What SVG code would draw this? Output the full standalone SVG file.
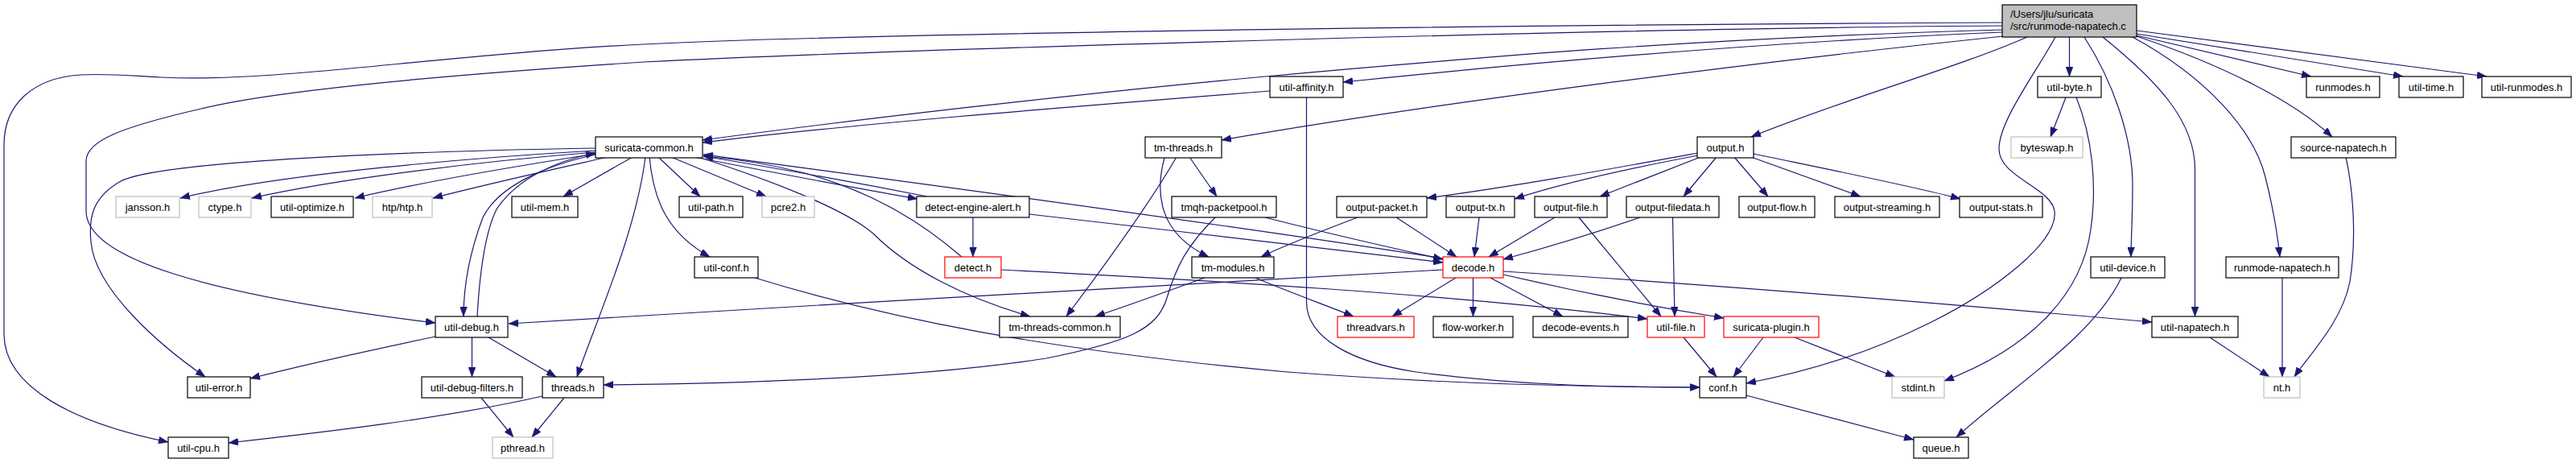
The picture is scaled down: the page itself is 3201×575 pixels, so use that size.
<svg xmlns="http://www.w3.org/2000/svg" width="3201" height="575" viewBox="0 0 3201 575">
<defs>
<marker id="arr" markerUnits="userSpaceOnUse" markerWidth="12" markerHeight="9" refX="12" refY="4.5" orient="auto">
<path d="M0,0 L12,4.5 L0,9 z" fill="#191970" stroke="#191970" stroke-width="0.5"/>
</marker>
<style>
.node rect{fill:#fff;stroke:#000;stroke-width:1.2}
.gray rect{stroke:#bfbfbf}
.red rect{stroke:#ff0000}
.root rect{fill:#bfbfbf;stroke:#000}
text{font-family:"Liberation Sans",Arial,Helvetica,sans-serif;font-size:13px;text-anchor:middle;fill:#000}
.root text{text-anchor:start}
.edges path{fill:none;stroke:#191970;stroke-width:1.2;marker-end:url(#arr)}
</style>
</defs>
<rect width="3201" height="575" fill="#fff"/>
<g class="edges" id="edges">
<path d="M2488,28 C2000,30 1100,40 800,55 C600,65 420,90 306,95 C270,97 240,98 200,96 C160,94 130,91 100,93 C40,97 5,130 5,180 L5,415 C5,480 90,525 209,549"/>
<path d="M2488,32 C2000,35 1100,62 800,77 C600,90 350,110 250,135 C150,158 107,175 107,200 L107,262 C107,320 250,365 541,401"/>
<path d="M2488,37 C2100,48 1850,70 1578,94.5 C1350,115 1050,150 873,174"/>
<path d="M2488,40 C2200,52 1900,78 1669,102"/>
<path d="M2489,45 C2200,75 1800,125 1518,174"/>
<path d="M2519,46 C2430,85 2300,120 2176,170"/>
<path d="M2554,46 C2530,90 2484,150 2484,185 C2484,220 2548,232 2553,262 C2558,300 2480,360 2400,400 C2320,440 2240,463 2170,476"/>
<path d="M2571.5,46 L2571.5,95"/>
<path d="M2590,46 C2625,100 2650,170 2650,230 C2650,270 2648,300 2648,319"/>
<path d="M2613,46 C2680,100 2727.5,150 2727.5,210 L2727.5,393"/>
<path d="M2650,46 C2740,95 2800,160 2815,220 C2825,260 2830,290 2833,319"/>
<path d="M2655,45 C2760,80 2850,125 2898,170"/>
<path d="M2655,44 L2872,95"/>
<path d="M2655,42 L2986,95"/>
<path d="M2655,38 L3090,95"/>
<path d="M2567,121 L2548,170"/>
<path d="M2580,121 C2600,170 2606,230 2598,285 C2588,360 2530,430 2416,473"/>
<path d="M2915,195 C2925,240 2928,300 2920,350 C2910,400 2870,440 2851,468"/>
<path d="M2836,345 L2836,468"/>
<path d="M2746,419 L2820,468"/>
<path d="M2636,345 C2600,420 2500,480 2431,543"/>
<path d="M1578,113 C1300,135 1050,155 873,177"/>
<path d="M1623.5,121 L1623.5,375 C1623.5,420 1680,450 1760,462 C1880,478 2000,481 2112,481"/>
<path d="M1478,195 L1512,244"/>
<path d="M1447,196 C1435,240 1440,290 1502,319"/>
<path d="M1462,195 C1430,250 1380,320 1325,393"/>
<path d="M1572,270 C1650,290 1730,308 1793,322"/>
<path d="M1510,270 C1475,305 1462,330 1450,370 C1438,410 1400,425 1300,445 C1150,468 950,476 750,478"/>
<path d="M1209,270 L1209,319"/>
<path d="M1279,266 C1450,285 1650,310 1793,326"/>
<path d="M862,195 C950,212 1060,233 1140,247"/>
<path d="M1152,244 C1060,226 960,208 874,194"/>
<path d="M1195,319 C1150,280 1090,240 1000,215 C950,202 910,197 874,194"/>
<path d="M1244,335 C1500,348 1800,365 2047,396"/>
<path d="M874,197 C960,225 1050,260 1085,290 C1130,335 1200,370 1280,393"/>
<path d="M807,195 C812,250 830,290 882,319"/>
<path d="M818,195 L870,244"/>
<path d="M834,195 L952,244"/>
<path d="M786,195 L700,244"/>
<path d="M802,195 C790,290 740,400 717,468"/>
<path d="M740,187 C600,195 350,215 224,246"/>
<path d="M740,189 C600,200 420,222 313,246"/>
<path d="M740,191 C650,205 520,227 441,246"/>
<path d="M755,195 C680,212 590,232 538,246"/>
<path d="M740,184 C500,188 200,200 150,225 C115,245 110,270 113,300 C118,360 200,430 255,468"/>
<path d="M740,192 C680,205 620,230 600,270 C585,310 576,350 576,393"/>
<path d="M593,393 C596,340 602,290 617,260 C642,222 690,200 740,190"/>
<path d="M1793,321 C1500,275 1100,222 874,192"/>
<path d="M1793,335 C1500,350 1000,380 632,402"/>
<path d="M1809,345 L1730,393"/>
<path d="M1830.5,345 L1830.5,393"/>
<path d="M1852,345 L1942,393"/>
<path d="M1868,341 C1950,360 2050,380 2142,395"/>
<path d="M1868,337 C2150,355 2450,380 2674,400"/>
<path d="M1497,345 C1450,362 1400,380 1361,393"/>
<path d="M1560,345 C1600,362 1650,380 1682,393"/>
<path d="M1687,270 C1640,288 1600,303 1567,319"/>
<path d="M1735,270 L1810,319"/>
<path d="M1838,270 L1832,319"/>
<path d="M1932,270 L1850,319"/>
<path d="M2038,270 C1980,290 1920,308 1868,322"/>
<path d="M1962,270 L2064,393"/>
<path d="M2078.5,270 L2081,393"/>
<path d="M2110,190 C2000,210 1880,232 1773,246"/>
<path d="M2110,193 C2020,210 1940,228 1882,247"/>
<path d="M2113,195 L1988,244"/>
<path d="M2133,195 L2092,244"/>
<path d="M2155,195 L2197,244"/>
<path d="M2176,195 L2312,244"/>
<path d="M2179,191 C2280,212 2380,232 2436,247"/>
<path d="M541,418 C450,437 370,455 311,470"/>
<path d="M586.5,419 L586.5,468"/>
<path d="M607,419 L691,468"/>
<path d="M674,492 C550,520 400,537 284,550"/>
<path d="M701,494 L661,543"/>
<path d="M598,494 L638,543"/>
<path d="M2092,419 L2133,468"/>
<path d="M2191,419 L2154,468"/>
<path d="M2230,419 L2355,468"/>
<path d="M2170,491 L2378,546"/>
<path d="M938,345 C1100,395 1300,435 1600,462 C1800,477 1950,480 2112,481"/>
</g>
<g id="n_root" class="node root"><rect x="2488" y="6" width="167" height="40"/><text x="2498" y="21.5">/Users/jlu/suricata</text><text x="2498" y="36.5">/src/runmode-napatech.c</text></g>
<g id="n_util_affinity" class="node"><rect x="1578" y="95" width="91" height="26"/><text x="1623.5" y="112.5">util-affinity.h</text></g>
<g id="n_util_byte" class="node"><rect x="2532" y="95" width="79" height="26"/><text x="2571.5" y="112.5">util-byte.h</text></g>
<g id="n_runmodes" class="node"><rect x="2866" y="95" width="91" height="26"/><text x="2911.5" y="112.5">runmodes.h</text></g>
<g id="n_util_time" class="node"><rect x="2981" y="95" width="80" height="26"/><text x="3021" y="112.5">util-time.h</text></g>
<g id="n_util_runmodes" class="node"><rect x="3084" y="95" width="111" height="26"/><text x="3139.5" y="112.5">util-runmodes.h</text></g>
<g id="n_suricata_common" class="node"><rect x="740" y="170" width="133" height="26"/><text x="806.5" y="187.5">suricata-common.h</text></g>
<g id="n_tm_threads" class="node"><rect x="1423" y="170" width="95" height="26"/><text x="1470.5" y="187.5">tm-threads.h</text></g>
<g id="n_output" class="node"><rect x="2109" y="170" width="70" height="26"/><text x="2144" y="187.5">output.h</text></g>
<g id="n_byteswap" class="node gray"><rect x="2499" y="170" width="89" height="26"/><text x="2543.5" y="187.5">byteswap.h</text></g>
<g id="n_source_napatech" class="node"><rect x="2847" y="170" width="130" height="26"/><text x="2912" y="187.5">source-napatech.h</text></g>
<g id="n_jansson" class="node gray"><rect x="144" y="244" width="79" height="26"/><text x="183.5" y="261.5">jansson.h</text></g>
<g id="n_ctype" class="node gray"><rect x="247" y="244" width="65" height="26"/><text x="279.5" y="261.5">ctype.h</text></g>
<g id="n_util_optimize" class="node"><rect x="337" y="244" width="102" height="26"/><text x="388" y="261.5">util-optimize.h</text></g>
<g id="n_htp" class="node gray"><rect x="463" y="244" width="74" height="26"/><text x="500" y="261.5">htp/htp.h</text></g>
<g id="n_util_mem" class="node"><rect x="636" y="244" width="82" height="26"/><text x="677" y="261.5">util-mem.h</text></g>
<g id="n_util_path" class="node"><rect x="844" y="244" width="79" height="26"/><text x="883.5" y="261.5">util-path.h</text></g>
<g id="n_pcre2" class="node gray"><rect x="947" y="244" width="65" height="26"/><text x="979.5" y="261.5">pcre2.h</text></g>
<g id="n_detect_engine_alert" class="node"><rect x="1139" y="244" width="140" height="26"/><text x="1209" y="261.5">detect-engine-alert.h</text></g>
<g id="n_tmqh_packetpool" class="node"><rect x="1456" y="244" width="130" height="26"/><text x="1521" y="261.5">tmqh-packetpool.h</text></g>
<g id="n_output_packet" class="node"><rect x="1661" y="244" width="112" height="26"/><text x="1717" y="261.5">output-packet.h</text></g>
<g id="n_output_tx" class="node"><rect x="1797" y="244" width="85" height="26"/><text x="1839.5" y="261.5">output-tx.h</text></g>
<g id="n_output_file" class="node"><rect x="1907" y="244" width="90" height="26"/><text x="1952" y="261.5">output-file.h</text></g>
<g id="n_output_filedata" class="node"><rect x="2021" y="244" width="115" height="26"/><text x="2078.5" y="261.5">output-filedata.h</text></g>
<g id="n_output_flow" class="node"><rect x="2161" y="244" width="94" height="26"/><text x="2208" y="261.5">output-flow.h</text></g>
<g id="n_output_streaming" class="node"><rect x="2280" y="244" width="130" height="26"/><text x="2345" y="261.5">output-streaming.h</text></g>
<g id="n_output_stats" class="node"><rect x="2435" y="244" width="103" height="26"/><text x="2486.5" y="261.5">output-stats.h</text></g>
<g id="n_util_conf" class="node"><rect x="863" y="319" width="79" height="26"/><text x="902.5" y="336.5">util-conf.h</text></g>
<g id="n_detect" class="node red"><rect x="1174" y="319" width="70" height="26"/><text x="1209" y="336.5">detect.h</text></g>
<g id="n_tm_modules" class="node"><rect x="1481" y="319" width="102" height="26"/><text x="1532" y="336.5">tm-modules.h</text></g>
<g id="n_decode" class="node red"><rect x="1793" y="319" width="75" height="26"/><text x="1830.5" y="336.5">decode.h</text></g>
<g id="n_util_device" class="node"><rect x="2598" y="319" width="92" height="26"/><text x="2644" y="336.5">util-device.h</text></g>
<g id="n_runmode_napatech" class="node"><rect x="2766" y="319" width="140" height="26"/><text x="2836" y="336.5">runmode-napatech.h</text></g>
<g id="n_util_debug" class="node"><rect x="541" y="393" width="90" height="26"/><text x="586" y="410.5">util-debug.h</text></g>
<g id="n_tm_threads_common" class="node"><rect x="1242" y="393" width="150" height="26"/><text x="1317" y="410.5">tm-threads-common.h</text></g>
<g id="n_threadvars" class="node red"><rect x="1662" y="393" width="95" height="26"/><text x="1709.5" y="410.5">threadvars.h</text></g>
<g id="n_flow_worker" class="node"><rect x="1781" y="393" width="99" height="26"/><text x="1830.5" y="410.5">flow-worker.h</text></g>
<g id="n_decode_events" class="node"><rect x="1905" y="393" width="118" height="26"/><text x="1964" y="410.5">decode-events.h</text></g>
<g id="n_util_file" class="node red"><rect x="2047" y="393" width="71" height="26"/><text x="2082.5" y="410.5">util-file.h</text></g>
<g id="n_suricata_plugin" class="node red"><rect x="2142" y="393" width="118" height="26"/><text x="2201" y="410.5">suricata-plugin.h</text></g>
<g id="n_util_napatech" class="node"><rect x="2674" y="393" width="107" height="26"/><text x="2727.5" y="410.5">util-napatech.h</text></g>
<g id="n_util_error" class="node"><rect x="233" y="468" width="78" height="26"/><text x="272" y="485.5">util-error.h</text></g>
<g id="n_util_debug_filters" class="node"><rect x="524" y="468" width="125" height="26"/><text x="586.5" y="485.5">util-debug-filters.h</text></g>
<g id="n_threads" class="node"><rect x="674" y="468" width="76" height="26"/><text x="712" y="485.5">threads.h</text></g>
<g id="n_conf" class="node"><rect x="2112" y="468" width="58" height="26"/><text x="2141" y="485.5">conf.h</text></g>
<g id="n_stdint" class="node gray"><rect x="2351" y="468" width="65" height="26"/><text x="2383.5" y="485.5">stdint.h</text></g>
<g id="n_nt" class="node gray"><rect x="2813" y="468" width="45" height="26"/><text x="2835.5" y="485.5">nt.h</text></g>
<g id="n_util_cpu" class="node"><rect x="209" y="543" width="75" height="26"/><text x="246.5" y="560.5">util-cpu.h</text></g>
<g id="n_pthread" class="node gray"><rect x="612" y="543" width="75" height="26"/><text x="649.5" y="560.5">pthread.h</text></g>
<g id="n_queue" class="node"><rect x="2378" y="543" width="68" height="26"/><text x="2412" y="560.5">queue.h</text></g>
</svg>
